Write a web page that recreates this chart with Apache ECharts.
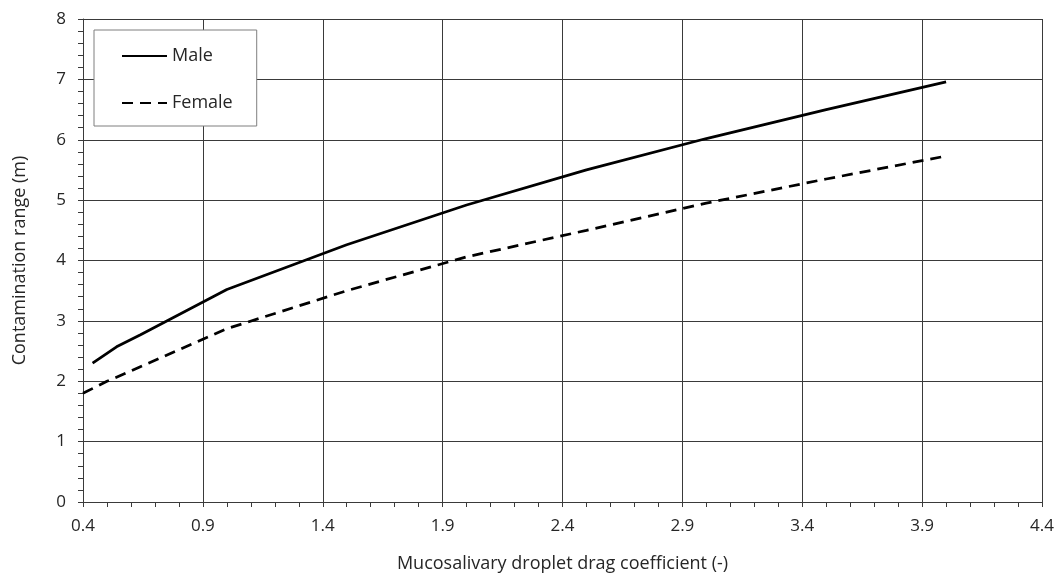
<!DOCTYPE html>
<html>
<head>
<meta charset="utf-8">
<script src="https://cdn.jsdelivr.net/npm/echarts@6/dist/echarts.min.js"></script>
<style>
  html, body { margin: 0; padding: 0; background: #fff; }
  #chart { width: 1060px; height: 575px; }
</style>
</head>
<body>
<div id="chart"></div>
<script>
// drag coefficient vs contamination range
const maleX = [0.44, 0.54, 0.64, 1.0, 1.5, 2.0, 2.5, 3.0, 3.5, 4.0]
const maleY = [2.30, 2.57, 2.77, 3.52, 4.26, 4.92, 5.50, 6.02, 6.50, 6.96]
const femaleX = [0.4, 0.5, 0.6, 1.0, 1.5, 2.0, 2.5, 3.0, 3.5, 4.0]
const femaleY = [1.80, 2.00, 2.17, 2.87, 3.50, 4.06, 4.50, 4.95, 5.35, 5.73]

const xName = 'Mucosalivary droplet drag coefficient (-)'
const yName = 'Contamination range (m)'

const font = '"Open Sans", "Noto Sans", sans-serif'
const textColor = '#262626'
const gridColor = '#3a3a3a'

const pairs = (xs, ys) => xs.map((x, i) => [x, ys[i]])

const myChart = echarts.init(document.getElementById('chart'))

const option = {
  animation: false,
  textStyle: { fontFamily: font },
  grid: { left: 83, right: 18, top: 19, bottom: 73, containLabel: false, outerBoundsMode: 'none' },
  legend: {
    left: 94,
    top: 30,
    orient: 'vertical',
    borderColor: '#7f7f7f',
    borderWidth: 1,
    backgroundColor: '#fff',
    padding: [17, 24, 14, 27],
    itemWidth: 45,
    itemHeight: 14,
    itemGap: 29,
    itemStyle: { opacity: 0 },
    textStyle: { fontFamily: font, fontSize: 18, color: textColor },
    data: ['Male', 'Female']
  },
  xAxis: {
    type: 'value',
    min: 0.4,
    max: 4.4,
    interval: 0.5,
    name: xName,
    nameLocation: 'middle',
    nameGap: 53,
    nameTextStyle: { fontFamily: font, fontSize: 18, color: textColor },
    axisLine: { lineStyle: { color: gridColor, width: 1 } },
    axisTick: { show: true, length: 5, lineStyle: { color: gridColor } },
    minorTick: { show: true, splitNumber: 5, length: 5, lineStyle: { color: gridColor } },
    axisLabel: {
      fontFamily: font, fontSize: 17, color: textColor, margin: 16,
      formatter: (v) => v.toFixed(1)
    },
    splitLine: { show: true, lineStyle: { color: gridColor, width: 1 } }
  },
  yAxis: {
    type: 'value',
    min: 0,
    max: 8,
    interval: 1,
    name: yName,
    nameLocation: 'middle',
    nameGap: 54,
    nameTextStyle: { fontFamily: font, fontSize: 18, color: textColor },
    axisLine: { show: true, lineStyle: { color: gridColor, width: 1 } },
    axisTick: { show: true, length: 5, lineStyle: { color: gridColor } },
    minorTick: { show: true, splitNumber: 5, length: 5, lineStyle: { color: gridColor } },
    axisLabel: { fontFamily: font, fontSize: 17, color: textColor, margin: 17 },
    splitLine: { show: true, lineStyle: { color: gridColor, width: 1 } }
  },
  series: [
    {
      name: 'Male',
      type: 'line',
      symbol: 'none',
      smooth: false,
      lineStyle: { color: '#000', width: 2.75, type: 'solid' },
      itemStyle: { color: '#000' },
      data: pairs(maleX, maleY)
    },
    {
      name: 'Female',
      type: 'line',
      symbol: 'none',
      smooth: false,
      lineStyle: { color: '#000', width: 2.75, type: [11, 7] },
      itemStyle: { color: '#000' },
      data: pairs(femaleX, femaleY)
    }
  ]
}

myChart.setOption(option)
</script>
</body>
</html>
